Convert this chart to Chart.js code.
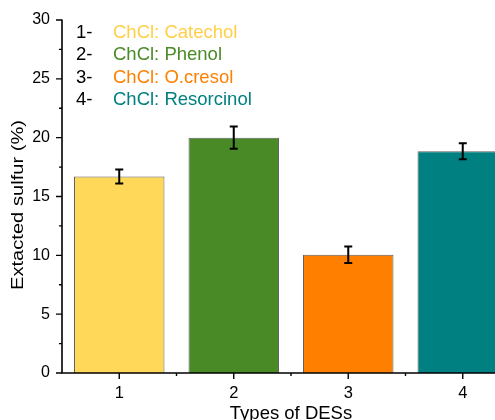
<!DOCTYPE html>
<html><head><meta charset="utf-8">
<script src="https://cdn.jsdelivr.net/npm/chart.js@4/dist/chart.umd.min.js"></script>
<style>
html,body{margin:0;padding:0;overflow:hidden;background:#fff;width:495px;height:420px;}
#wrap{position:absolute;left:0;top:0;width:520px;height:430px;}
</style></head><body>
<div id="wrap"><canvas id="c" width="520" height="430"></canvas></div>
<script>
const categories = ['1', '2', '3', '4'];
const sulfurValues = [16.7, 20.0, 10.05, 18.85];
const errorValues = [0.6, 0.95, 0.7, 0.68];
const barColors = ['#FFD85A', '#4A8A26', '#FF8000', '#008080'];
const legendNumbers = ['1-', '2-', '3-', '4-'];
const legendNames = ['ChCl: Catechol', 'ChCl: Phenol', 'ChCl: O.cresol', 'ChCl: Resorcinol'];
const legendColors = ['#FFCF48', '#4A8A26', '#FF8000', '#008080'];
const yTicks = [0, 5, 10, 15, 20, 25, 30];
const yTitle = 'Extacted sulfur (%)';
const xTitle = 'Types of DESs';

const FONT = '"Liberation Sans", Arial, sans-serif';

const decorPlugin = {
  id: 'decor',
  afterDatasetsDraw(chart) {
    const ctx = chart.ctx;
    const xs = chart.scales.x, ys = chart.scales.y;
    const meta = chart.getDatasetMeta(0);
    ctx.save();
    // error bars
    ctx.strokeStyle = '#000';
    ctx.lineWidth = 2;
    meta.data.forEach((bar, i) => {
      const x = bar.x;
      const yT = ys.getPixelForValue(sulfurValues[i] + errorValues[i]);
      const yB = ys.getPixelForValue(sulfurValues[i] - errorValues[i]);
      ctx.beginPath();
      ctx.moveTo(x, yT); ctx.lineTo(x, yB);
      ctx.moveTo(x - 4, yT); ctx.lineTo(x + 4, yT);
      ctx.moveTo(x - 4, yB); ctx.lineTo(x + 4, yB);
      ctx.stroke();
    });
    // axes
    const left = chart.chartArea.left, bottom = chart.chartArea.bottom;
    const top = ys.getPixelForValue(30);
    ctx.lineWidth = 1.6;
    ctx.beginPath();
    ctx.moveTo(left, top - 0.5); ctx.lineTo(left, bottom);
    ctx.lineTo(chart.width, bottom);
    ctx.stroke();
    ctx.lineWidth = 1.4;
    ctx.beginPath();
    for (let v = 0; v <= 30; v += 2.5) {
      const y = ys.getPixelForValue(v);
      const major = v % 5 === 0;
      ctx.moveTo(left, y); ctx.lineTo(left - (major ? 6 : 3), y);
    }
    const n = categories.length;
    for (let i = 0; i < n; i++) {
      const x = xs.getPixelForValue(i);
      ctx.moveTo(x, bottom); ctx.lineTo(x, bottom + 6);
      if (i < n - 1) {
        const xm = (x + xs.getPixelForValue(i + 1)) / 2;
        ctx.moveTo(xm, bottom); ctx.lineTo(xm, bottom + 3);
      }
    }
    ctx.stroke();
    // legend text
    ctx.font = '18.5px ' + FONT;
    ctx.textBaseline = 'middle';
    ctx.textAlign = 'left';
    for (let i = 0; i < legendNames.length; i++) {
      const y = 33 + i * 22.4;
      ctx.fillStyle = '#000';
      ctx.fillText(legendNumbers[i], 76, y);
      ctx.fillStyle = legendColors[i];
      ctx.fillText(legendNames[i], 113, y);
    }
    // y axis title (condensed glyph height as in the reference)
    ctx.font = '17px ' + FONT;
    ctx.fillStyle = '#000';
    ctx.textAlign = 'center';
    ctx.textBaseline = 'middle';
    const w = ctx.measureText(yTitle).width;
    ctx.translate(18, 205);
    ctx.rotate(-Math.PI / 2);
    ctx.scale(170 / w, 1);
    ctx.fillText(yTitle, 0, 0);
    ctx.restore();
  }
};

new Chart(document.getElementById('c'), {
  type: 'bar',
  data: {
    labels: categories,
    datasets: [{
      data: sulfurValues,
      backgroundColor: barColors,
      borderColor: '#5e5e5e',
      borderWidth: 1,
      barPercentage: 0.79,
      categoryPercentage: 1.0
    }]
  },
  options: {
    responsive: false,
    animation: false,
    devicePixelRatio: 1,
    layout: { padding: { top: 20, left: 0, right: 0, bottom: 0 } },
    plugins: { legend: { display: false }, tooltip: { enabled: false } },
    scales: {
      x: {
        offset: true,
        grid: { display: false },
        border: { display: false },
        ticks: { color: '#000', font: { family: FONT, size: 16.5 }, padding: 3 },
        title: { display: true, text: xTitle, color: '#000', font: { family: FONT, size: 18.5 }, padding: { top: 0, bottom: 5 } },
        afterFit(s) { s.height = 57; }
      },
      y: {
        min: 0, max: 30,
        afterBuildTicks(s) { s.ticks = yTicks.map(v => ({ value: v })); },
        grid: { display: false },
        border: { display: false },
        ticks: { color: '#000', font: { family: FONT, size: 16 }, padding: 4 },
        title: { display: false },
        afterFit(s) { s.width = 62; }
      }
    }
  },
  plugins: [decorPlugin]
});
</script>
</body></html>
